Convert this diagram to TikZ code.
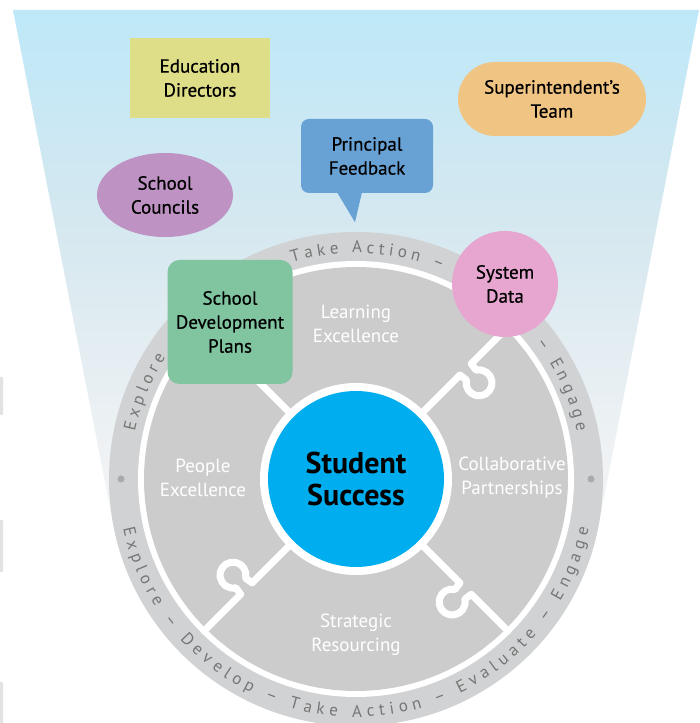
\documentclass[tikz,border=0pt]{standalone}
\usepackage{fontspec}
\setmainfont{PT Sans}
\newfontface\cardfont[FakeBold=0.6]{PT Sans}
\usepackage{tikz}
\usetikzlibrary{calc,shapes.geometric,decorations.text}

\definecolor{funneltop}{RGB}{190,232,248}
\definecolor{funnelhigh}{RGB}{214,232,240}
\definecolor{funnelmid}{RGB}{239,242,244}
\definecolor{edgegray}{RGB}{226,226,226}
\definecolor{bandgray}{RGB}{209,210,211}
\definecolor{dotgray}{RGB}{170,170,170}
\definecolor{piecegray}{RGB}{204,204,204}
\definecolor{ringtext}{RGB}{118,118,118}
\definecolor{corefill}{RGB}{0,174,239}
\definecolor{edufill}{RGB}{222,221,136}
\definecolor{suptfill}{RGB}{240,196,130}
\definecolor{fbfill}{RGB}{104,161,212}
\definecolor{councilfill}{RGB}{190,147,196}
\definecolor{sdpfill}{RGB}{128,196,160}
\definecolor{sysfill}{RGB}{230,166,208}

% sky fading to white towards the ring
\pgfdeclareverticalshading{funnelfade}{100bp}{color(0bp)=(white); color(25bp)=(white);
    color(45bp)=(funnelmid); color(60bp)=(funnelhigh); color(75bp)=(funneltop); color(100bp)=(funneltop)}

\begin{document}
\begin{tikzpicture}[x=1pt,y=1pt,
    cardtext/.style={align=center,font=\cardfont\fontsize{19}{24}\selectfont},
    piecetext/.style={align=center,text=white,font=\fontsize{19}{24}\selectfont},
    joint/.style={draw=white,line width=7,line join=round,line cap=round},
    cycletext/.style={decorate,decoration={text along path,text align={fit to path},
        text={|\fontsize{17}{17}\selectfont\color{ringtext}|Explore – Develop – Take Action – Evaluate – Engage}}}]
    \useasboundingbox (0,0) rectangle (700,723);
    \coordinate (C) at (356,244);

    % funnel
    \shade[shading=funnelfade]
        (13,713) -- (699,713) -- ($(C)+(-11:247)$)
        arc[start angle=-11,end angle=-169,radius=247] -- cycle;

    % marks on the left edge
    \fill[edgegray,rounded corners=1] (-3,308) rectangle (3,346);
    \fill[edgegray,rounded corners=1] (-3,151) rectangle (3,203);
    \fill[edgegray,rounded corners=1] (-3,-3) rectangle (3,41);

    % ring and pieces
    \fill[bandgray] (C) circle (247);
    \fill[white] (C) circle (218);
    \fill[piecegray] (C) circle (212);
    \fill[dotgray] ($(C)+(-235,0)$) circle (3.5);
    \fill[dotgray] ($(C)+(235,0)$) circle (3.5);
    \path[cycletext] ($(C)+(168:226)$) arc[start angle=168,end angle=12,radius=226];
    \path[cycletext] ($(C)+(192:238)$) arc[start angle=192,end angle=348,radius=238];

    \foreach \a in {45,-45,-135,135}
        \draw[joint,shift={(C)},rotate=\a] (90,0) -- (147,0) -- (148.1,-8)
            arc[start angle=122,end angle=418,radius=13] -- (163,0) -- (215,0);

    \node[circle,fill=white,minimum size=192] (corering) at (C) {};
    \node[circle,fill=corefill,minimum size=176,align=center,
        font=\fontsize{30}{32}\selectfont\bfseries] (core) at (C) {Student\\Success};

    \node[piecetext] (learning) at (356,399) {Learning\\Excellence};
    \node[piecetext] (people) at (203,245) {People\\Excellence};
    \node[piecetext] (partners) at (512,245) {Collaborative\\Partnerships};
    \node[piecetext] (resourcing) at (356,88) {Strategic\\Resourcing};

    % groups around the ring
    \node[cardtext,fill=edufill,minimum width=140,minimum height=80] (edu) at (200,645) {Education\\Directors};
    \node[cardtext,fill=suptfill,rounded corners=37,minimum width=188,minimum height=74] (supt) at (552,624) {Superintendent’s\\Team};
    \node[cardtext,fill=fbfill,rounded corners=8,minimum width=132,minimum height=74] (fb) at (367,567) {Principal\\Feedback};
    \fill[fbfill] ([xshift=-30,yshift=1]fb.south) -- ([xshift=-5,yshift=1]fb.south) -- ([xshift=-12,yshift=-29]fb.south) -- cycle;
    \node[cardtext,ellipse,fill=councilfill,minimum width=136,minimum height=84] (council) at (165,528) {School\\Councils};
    \node[cardtext,fill=sdpfill,rounded corners=12,minimum width=125,minimum height=124] (sdp) at (230,401) {School\\Development\\Plans};
    \node[cardtext,circle,fill=sysfill,minimum size=106] (sysdata) at (505,439) {System\\Data};
\end{tikzpicture}
\end{document}
